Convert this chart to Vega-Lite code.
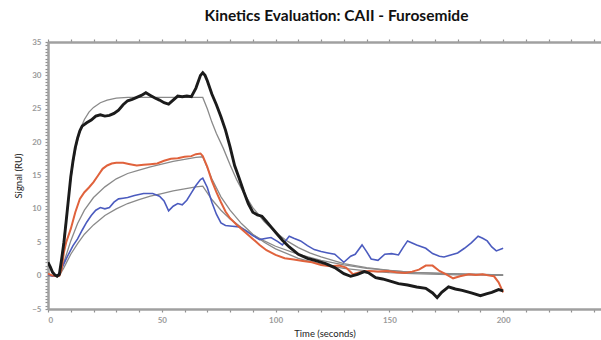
{
  "$schema": "https://vega.github.io/schema/vega-lite/v6.json",
  "autosize": "none",
  "width": 553,
  "height": 267,
  "padding": {"left": 48, "top": 42, "right": 0, "bottom": 31},
  "background": "white",
  "title": {"text": "Kinetics Evaluation: CAII - Furosemide", "font": "Lato", "fontSize": 15.5, "fontWeight": "bold", "color": "#111", "anchor": "middle", "dx": 12, "offset": 14},
  "config": {"view": {"stroke": null}},
  "datasets": {
    "curves": [
      {"series":"Black","time":0,"signal":2.0},{"series":"Black","time":1,"signal":1.3},{"series":"Black","time":2,"signal":0.5},{"series":"Black","time":3,"signal":0.1},{"series":"Black","time":4,"signal":-0.1},{"series":"Black","time":5,"signal":0.2},{"series":"Black","time":6,"signal":2.5},{"series":"Black","time":7,"signal":5},{"series":"Black","time":8,"signal":8.2},{"series":"Black","time":9,"signal":11.5},{"series":"Black","time":10,"signal":14.8},{"series":"Black","time":11,"signal":17.2},{"series":"Black","time":12,"signal":19.2},{"series":"Black","time":13,"signal":20.6},{"series":"Black","time":14,"signal":21.7},{"series":"Black","time":15,"signal":22.4},{"series":"Black","time":17,"signal":22.9},{"series":"Black","time":19,"signal":23.3},{"series":"Black","time":21,"signal":23.9},{"series":"Black","time":23,"signal":24.1},{"series":"Black","time":25,"signal":23.9},{"series":"Black","time":27,"signal":24},{"series":"Black","time":29,"signal":24.3},{"series":"Black","time":31,"signal":24.8},{"series":"Black","time":33,"signal":25.6},{"series":"Black","time":35,"signal":26.2},{"series":"Black","time":37,"signal":26.4},{"series":"Black","time":39,"signal":26.7},{"series":"Black","time":41,"signal":27},{"series":"Black","time":43,"signal":27.4},{"series":"Black","time":45,"signal":27},{"series":"Black","time":47,"signal":26.6},{"series":"Black","time":49,"signal":26.3},{"series":"Black","time":51,"signal":25.9},{"series":"Black","time":53,"signal":25.7},{"series":"Black","time":55,"signal":26.3},{"series":"Black","time":57,"signal":26.9},{"series":"Black","time":59,"signal":26.8},{"series":"Black","time":61,"signal":26.9},{"series":"Black","time":63,"signal":26.8},{"series":"Black","time":65,"signal":28.1},{"series":"Black","time":67,"signal":30},{"series":"Black","time":68,"signal":30.4},{"series":"Black","time":69,"signal":30},{"series":"Black","time":70,"signal":29.2},{"series":"Black","time":72,"signal":27.2},{"series":"Black","time":74,"signal":25.6},{"series":"Black","time":76,"signal":23.8},{"series":"Black","time":78,"signal":21.8},{"series":"Black","time":80,"signal":19.3},{"series":"Black","time":82,"signal":16.5},{"series":"Black","time":84,"signal":14.6},{"series":"Black","time":86,"signal":12.6},{"series":"Black","time":88,"signal":10.8},{"series":"Black","time":90,"signal":9.5},{"series":"Black","time":92,"signal":9.1},{"series":"Black","time":94,"signal":8.9},{"series":"Black","time":96,"signal":8.1},{"series":"Black","time":98,"signal":7.3},{"series":"Black","time":100,"signal":6.5},{"series":"Black","time":103,"signal":5.3},{"series":"Black","time":106,"signal":4.3},{"series":"Black","time":110,"signal":3.2},{"series":"Black","time":114,"signal":2.6},{"series":"Black","time":118,"signal":2.2},{"series":"Black","time":122,"signal":1.8},{"series":"Black","time":126,"signal":1.2},{"series":"Black","time":130,"signal":0.3},{"series":"Black","time":133,"signal":-0.1},{"series":"Black","time":136,"signal":0.2},{"series":"Black","time":139,"signal":0.6},{"series":"Black","time":141,"signal":0.4},{"series":"Black","time":144,"signal":-0.3},{"series":"Black","time":147,"signal":-0.5},{"series":"Black","time":150,"signal":-0.8},{"series":"Black","time":154,"signal":-1.2},{"series":"Black","time":158,"signal":-1.4},{"series":"Black","time":162,"signal":-1.7},{"series":"Black","time":166,"signal":-1.9},{"series":"Black","time":169,"signal":-2.6},{"series":"Black","time":171,"signal":-3.3},{"series":"Black","time":173,"signal":-2.5},{"series":"Black","time":176,"signal":-1.7},{"series":"Black","time":179,"signal":-2},{"series":"Black","time":182,"signal":-2.2},{"series":"Black","time":186,"signal":-2.6},{"series":"Black","time":190,"signal":-3},{"series":"Black","time":193,"signal":-2.7},{"series":"Black","time":195,"signal":-2.5},{"series":"Black","time":198,"signal":-2.1},{"series":"Black","time":200,"signal":-2.3},

      {"series":"Orange","time":0,"signal":0.3},{"series":"Orange","time":2,"signal":0},{"series":"Orange","time":4,"signal":-0.1},{"series":"Orange","time":5,"signal":0},{"series":"Orange","time":6,"signal":1},{"series":"Orange","time":7,"signal":3.5},{"series":"Orange","time":8,"signal":5},{"series":"Orange","time":10,"signal":7},{"series":"Orange","time":12,"signal":9.5},{"series":"Orange","time":14,"signal":11.5},{"series":"Orange","time":16,"signal":12.5},{"series":"Orange","time":18,"signal":13.2},{"series":"Orange","time":20,"signal":14},{"series":"Orange","time":22,"signal":15},{"series":"Orange","time":24,"signal":16},{"series":"Orange","time":26,"signal":16.5},{"series":"Orange","time":28,"signal":16.8},{"series":"Orange","time":30,"signal":16.9},{"series":"Orange","time":33,"signal":16.9},{"series":"Orange","time":36,"signal":16.7},{"series":"Orange","time":39,"signal":16.5},{"series":"Orange","time":42,"signal":16.6},{"series":"Orange","time":45,"signal":16.7},{"series":"Orange","time":48,"signal":16.8},{"series":"Orange","time":51,"signal":17.2},{"series":"Orange","time":54,"signal":17.5},{"series":"Orange","time":57,"signal":17.6},{"series":"Orange","time":60,"signal":17.8},{"series":"Orange","time":63,"signal":17.9},{"series":"Orange","time":65,"signal":18.2},{"series":"Orange","time":67,"signal":18.3},{"series":"Orange","time":68,"signal":17.9},{"series":"Orange","time":70,"signal":16.3},{"series":"Orange","time":72,"signal":14.2},{"series":"Orange","time":74,"signal":12.5},{"series":"Orange","time":76,"signal":11},{"series":"Orange","time":78,"signal":9.6},{"series":"Orange","time":80,"signal":8.6},{"series":"Orange","time":83,"signal":7.6},{"series":"Orange","time":86,"signal":6.7},{"series":"Orange","time":90,"signal":5.5},{"series":"Orange","time":93,"signal":4.6},{"series":"Orange","time":96,"signal":3.8},{"series":"Orange","time":100,"signal":3.1},{"series":"Orange","time":104,"signal":2.6},{"series":"Orange","time":108,"signal":2.4},{"series":"Orange","time":112,"signal":2.2},{"series":"Orange","time":116,"signal":2},{"series":"Orange","time":120,"signal":1.6},{"series":"Orange","time":124,"signal":1.4},{"series":"Orange","time":128,"signal":1.5},{"series":"Orange","time":131,"signal":1.2},{"series":"Orange","time":134,"signal":0.2},{"series":"Orange","time":137,"signal":0.5},{"series":"Orange","time":141,"signal":0.7},{"series":"Orange","time":145,"signal":0.6},{"series":"Orange","time":149,"signal":0.7},{"series":"Orange","time":153,"signal":0.5},{"series":"Orange","time":157,"signal":0.4},{"series":"Orange","time":160,"signal":0.6},{"series":"Orange","time":163,"signal":0.9},{"series":"Orange","time":166,"signal":1.5},{"series":"Orange","time":169,"signal":1.5},{"series":"Orange","time":172,"signal":0.7},{"series":"Orange","time":175,"signal":0.2},{"series":"Orange","time":178,"signal":-0.4},{"series":"Orange","time":181,"signal":-0.1},{"series":"Orange","time":185,"signal":0.2},{"series":"Orange","time":188,"signal":0.1},{"series":"Orange","time":191,"signal":0.2},{"series":"Orange","time":194,"signal":0},{"series":"Orange","time":196,"signal":-0.1},{"series":"Orange","time":198,"signal":-1},{"series":"Orange","time":200,"signal":-2.5},

      {"series":"Blue","time":0,"signal":0.2},{"series":"Blue","time":2,"signal":-0.1},{"series":"Blue","time":4,"signal":0},{"series":"Blue","time":5,"signal":0.4},{"series":"Blue","time":7,"signal":1.8},{"series":"Blue","time":9,"signal":3.2},{"series":"Blue","time":11,"signal":4.5},{"series":"Blue","time":13,"signal":5.5},{"series":"Blue","time":15,"signal":6.8},{"series":"Blue","time":17,"signal":8},{"series":"Blue","time":19,"signal":9},{"series":"Blue","time":21,"signal":9.8},{"series":"Blue","time":23,"signal":10.2},{"series":"Blue","time":25,"signal":10},{"series":"Blue","time":27,"signal":10.2},{"series":"Blue","time":29,"signal":11},{"series":"Blue","time":31,"signal":11.5},{"series":"Blue","time":33,"signal":11.6},{"series":"Blue","time":35,"signal":11.7},{"series":"Blue","time":38,"signal":12},{"series":"Blue","time":42,"signal":12.3},{"series":"Blue","time":46,"signal":12.3},{"series":"Blue","time":49,"signal":11.9},{"series":"Blue","time":51,"signal":11.2},{"series":"Blue","time":53,"signal":9.7},{"series":"Blue","time":55,"signal":10.4},{"series":"Blue","time":57,"signal":10.8},{"series":"Blue","time":59,"signal":10.6},{"series":"Blue","time":61,"signal":11.3},{"series":"Blue","time":63,"signal":12.4},{"series":"Blue","time":65,"signal":13.5},{"series":"Blue","time":67,"signal":14.4},{"series":"Blue","time":68,"signal":14.6},{"series":"Blue","time":70,"signal":13.2},{"series":"Blue","time":72,"signal":11},{"series":"Blue","time":74,"signal":9.2},{"series":"Blue","time":76,"signal":7.9},{"series":"Blue","time":78,"signal":7.5},{"series":"Blue","time":81,"signal":7.4},{"series":"Blue","time":84,"signal":7.3},{"series":"Blue","time":87,"signal":6.7},{"series":"Blue","time":90,"signal":6},{"series":"Blue","time":93,"signal":5.4},{"series":"Blue","time":96,"signal":5.6},{"series":"Blue","time":98,"signal":5.7},{"series":"Blue","time":101,"signal":5.1},{"series":"Blue","time":103,"signal":4.6},{"series":"Blue","time":106,"signal":5.9},{"series":"Blue","time":108,"signal":5.6},{"series":"Blue","time":111,"signal":5.2},{"series":"Blue","time":114,"signal":4.5},{"series":"Blue","time":117,"signal":3.9},{"series":"Blue","time":120,"signal":3.6},{"series":"Blue","time":123,"signal":3.4},{"series":"Blue","time":126,"signal":3.2},{"series":"Blue","time":130,"signal":2},{"series":"Blue","time":133,"signal":2.9},{"series":"Blue","time":135,"signal":3.2},{"series":"Blue","time":138,"signal":4.6},{"series":"Blue","time":140,"signal":3.6},{"series":"Blue","time":142,"signal":2.5},{"series":"Blue","time":145,"signal":2.3},{"series":"Blue","time":148,"signal":3.2},{"series":"Blue","time":151,"signal":3.3},{"series":"Blue","time":154,"signal":3.1},{"series":"Blue","time":156,"signal":4.2},{"series":"Blue","time":158,"signal":5.2},{"series":"Blue","time":160,"signal":4.9},{"series":"Blue","time":162,"signal":4.6},{"series":"Blue","time":166,"signal":4.1},{"series":"Blue","time":169,"signal":3.3},{"series":"Blue","time":172,"signal":2.9},{"series":"Blue","time":174,"signal":2.8},{"series":"Blue","time":177,"signal":3.1},{"series":"Blue","time":180,"signal":3.4},{"series":"Blue","time":183,"signal":4.1},{"series":"Blue","time":186,"signal":4.9},{"series":"Blue","time":189,"signal":5.9},{"series":"Blue","time":191,"signal":5.6},{"series":"Blue","time":193,"signal":5.2},{"series":"Blue","time":195,"signal":4.3},{"series":"Blue","time":197,"signal":3.7},{"series":"Blue","time":200,"signal":4.1},

      {"series":"Fit Black","time":0,"signal":0},{"series":"Fit Black","time":5,"signal":0},{"series":"Fit Black","time":6,"signal":2.5},{"series":"Fit Black","time":7,"signal":5.6},{"series":"Fit Black","time":8,"signal":8.6},{"series":"Fit Black","time":9,"signal":11.6},{"series":"Fit Black","time":10,"signal":14.4},{"series":"Fit Black","time":11,"signal":16.8},{"series":"Fit Black","time":12,"signal":18.7},{"series":"Fit Black","time":13,"signal":20.3},{"series":"Fit Black","time":14,"signal":21.6},{"series":"Fit Black","time":15,"signal":22.6},{"series":"Fit Black","time":16,"signal":23.4},{"series":"Fit Black","time":18,"signal":24.5},{"series":"Fit Black","time":20,"signal":25.2},{"series":"Fit Black","time":23,"signal":25.9},{"series":"Fit Black","time":26,"signal":26.3},{"series":"Fit Black","time":30,"signal":26.6},{"series":"Fit Black","time":35,"signal":26.7},{"series":"Fit Black","time":68,"signal":26.7},{"series":"Fit Black","time":70,"signal":25},{"series":"Fit Black","time":72,"signal":23},{"series":"Fit Black","time":74,"signal":21.3},{"series":"Fit Black","time":77,"signal":19.1},{"series":"Fit Black","time":80,"signal":16.6},{"series":"Fit Black","time":83,"signal":14.3},{"series":"Fit Black","time":86,"signal":12.4},{"series":"Fit Black","time":90,"signal":10.2},{"series":"Fit Black","time":95,"signal":8.1},{"series":"Fit Black","time":100,"signal":6.5},{"series":"Fit Black","time":105,"signal":5.2},{"series":"Fit Black","time":110,"signal":4.2},{"series":"Fit Black","time":115,"signal":3.4},{"series":"Fit Black","time":120,"signal":2.8},{"series":"Fit Black","time":130,"signal":1.8},{"series":"Fit Black","time":140,"signal":1.2},{"series":"Fit Black","time":150,"signal":0.8},{"series":"Fit Black","time":160,"signal":0.5},{"series":"Fit Black","time":175,"signal":0.3},{"series":"Fit Black","time":200,"signal":0.1},

      {"series":"Fit Orange","time":0,"signal":0},{"series":"Fit Orange","time":5,"signal":0},{"series":"Fit Orange","time":7,"signal":2},{"series":"Fit Orange","time":10,"signal":5.2},{"series":"Fit Orange","time":13,"signal":7.8},{"series":"Fit Orange","time":16,"signal":9.8},{"series":"Fit Orange","time":20,"signal":11.7},{"series":"Fit Orange","time":25,"signal":13.3},{"series":"Fit Orange","time":30,"signal":14.5},{"series":"Fit Orange","time":35,"signal":15.3},{"series":"Fit Orange","time":40,"signal":15.8},{"series":"Fit Orange","time":45,"signal":16.3},{"series":"Fit Orange","time":50,"signal":16.7},{"series":"Fit Orange","time":55,"signal":17.1},{"series":"Fit Orange","time":60,"signal":17.4},{"series":"Fit Orange","time":65,"signal":17.7},{"series":"Fit Orange","time":68,"signal":17.8},{"series":"Fit Orange","time":72,"signal":14.5},{"series":"Fit Orange","time":76,"signal":11.8},{"series":"Fit Orange","time":80,"signal":9.8},{"series":"Fit Orange","time":85,"signal":7.8},{"series":"Fit Orange","time":90,"signal":6.2},{"series":"Fit Orange","time":95,"signal":5},{"series":"Fit Orange","time":100,"signal":4},{"series":"Fit Orange","time":110,"signal":2.6},{"series":"Fit Orange","time":120,"signal":1.7},{"series":"Fit Orange","time":130,"signal":1.1},{"series":"Fit Orange","time":140,"signal":0.7},{"series":"Fit Orange","time":150,"signal":0.45},{"series":"Fit Orange","time":160,"signal":0.3},{"series":"Fit Orange","time":180,"signal":0.12},{"series":"Fit Orange","time":200,"signal":0.05},

      {"series":"Fit Blue","time":0,"signal":0},{"series":"Fit Blue","time":5,"signal":0},{"series":"Fit Blue","time":7,"signal":1.2},{"series":"Fit Blue","time":10,"signal":3.2},{"series":"Fit Blue","time":13,"signal":4.8},{"series":"Fit Blue","time":16,"signal":6.2},{"series":"Fit Blue","time":20,"signal":7.6},{"series":"Fit Blue","time":25,"signal":9},{"series":"Fit Blue","time":30,"signal":10},{"series":"Fit Blue","time":35,"signal":10.8},{"series":"Fit Blue","time":40,"signal":11.4},{"series":"Fit Blue","time":45,"signal":11.9},{"series":"Fit Blue","time":50,"signal":12.3},{"series":"Fit Blue","time":55,"signal":12.7},{"series":"Fit Blue","time":60,"signal":13},{"series":"Fit Blue","time":65,"signal":13.3},{"series":"Fit Blue","time":68,"signal":13.4},{"series":"Fit Blue","time":72,"signal":11.4},{"series":"Fit Blue","time":76,"signal":9.8},{"series":"Fit Blue","time":80,"signal":8.5},{"series":"Fit Blue","time":85,"signal":7.2},{"series":"Fit Blue","time":90,"signal":6.1},{"series":"Fit Blue","time":95,"signal":5.2},{"series":"Fit Blue","time":100,"signal":4.4},{"series":"Fit Blue","time":110,"signal":3.2},{"series":"Fit Blue","time":120,"signal":2.3},{"series":"Fit Blue","time":130,"signal":1.6},{"series":"Fit Blue","time":140,"signal":1.1},{"series":"Fit Blue","time":150,"signal":0.8},{"series":"Fit Blue","time":160,"signal":0.5},{"series":"Fit Blue","time":180,"signal":0.25},{"series":"Fit Blue","time":200,"signal":0.1}
    ]
  },
  "data": {"name": "curves"},
  "layer": [
    {
      "transform": [{"filter": "indexof(datum.series, 'Fit') === 0"}],
      "mark": {"type": "line", "color": "#8a8a8a", "strokeWidth": 1.3, "clip": true},
      "encoding": {
        "x": {"field": "time", "type": "quantitative", "scale": {"domain": [0, 243], "nice": false},
          "axis": {"orient": "bottom", "title": "Time (seconds)", "titleFont": "Lato", "titleFontSize": 9.5, "titleFontWeight": "normal", "titleColor": "#222", "titlePadding": 4,
            "values": [0,10,20,30,40,50,60,70,80,90,100,110,120,130,140,150,160,170,180,190,200,210,220,230,240],
            "labelExpr": "datum.value % 50 === 0 ? datum.label : ''", "labelFont": "Lato", "labelFontSize": 8, "labelColor": "#9a9a9a", "labelFontWeight": "bold", "labelPadding": 4,
            "domainColor": "#a0a0a0", "domainWidth": 2.5, "tickColor": "#909090", "tickSize": 3, "tickWidth": 1.2, "grid": false}},
        "y": {"field": "signal", "type": "quantitative", "scale": {"domain": [-5, 35], "nice": false},
          "axis": {"title": "Signal (RU)", "titleFont": "Lato", "titleFontSize": 9.5, "titleFontWeight": "normal", "titleColor": "#222", "titlePadding": 8,
            "values": [-5,-4.5,-4,-3.5,-3,-2.5,-2,-1.5,-1,-0.5,0,0.5,1,1.5,2,2.5,3,3.5,4,4.5,5,5.5,6,6.5,7,7.5,8,8.5,9,9.5,10,10.5,11,11.5,12,12.5,13,13.5,14,14.5,15,15.5,16,16.5,17,17.5,18,18.5,19,19.5,20,20.5,21,21.5,22,22.5,23,23.5,24,24.5,25,25.5,26,26.5,27,27.5,28,28.5,29,29.5,30,30.5,31,31.5,32,32.5,33,33.5,34,34.5,35],
            "labelExpr": "datum.value % 5 === 0 ? format(datum.value, 'd') : ''", "labelFont": "Lato", "labelFontSize": 8, "labelColor": "#9a9a9a", "labelFontWeight": "bold", "labelPadding": 4,
            "domainColor": "#a0a0a0", "domainWidth": 2.5, "tickColor": "#909090", "tickSize": 3, "tickWidth": 1.2, "grid": false}},
        "detail": {"field": "series", "type": "nominal"}
      }
    },
    {
      "transform": [{"filter": "datum.series === 'Blue'"}],
      "mark": {"type": "line", "color": "#4b5bbf", "strokeWidth": 1.6, "clip": true},
      "encoding": {
        "x": {"field": "time", "type": "quantitative", "axis": {"orient": "top", "title": null, "labels": false,
          "values": [0,10,20,30,40,50,60,70,80,90,100,110,120,130,140,150,160,170,180,190,200,210,220,230,240],
          "domainColor": "#a0a0a0", "domainWidth": 2.5, "tickColor": "#909090", "tickSize": 3, "tickWidth": 1.2, "grid": false}},
        "y": {"field": "signal", "type": "quantitative", "axis": null}
      }
    },
    {
      "transform": [{"filter": "datum.series === 'Orange'"}],
      "mark": {"type": "line", "color": "#e0623c", "strokeWidth": 2, "clip": true},
      "encoding": {
        "x": {"field": "time", "type": "quantitative", "axis": null},
        "y": {"field": "signal", "type": "quantitative", "axis": null}
      }
    },
    {
      "transform": [{"filter": "datum.series === 'Black'"}],
      "mark": {"type": "line", "color": "#1b1b1b", "strokeWidth": 2.9, "clip": true},
      "encoding": {
        "x": {"field": "time", "type": "quantitative", "axis": null},
        "y": {"field": "signal", "type": "quantitative", "axis": null}
      }
    }
  ],
  "resolve": {"axis": {"x": "independent", "y": "independent"}}
}
